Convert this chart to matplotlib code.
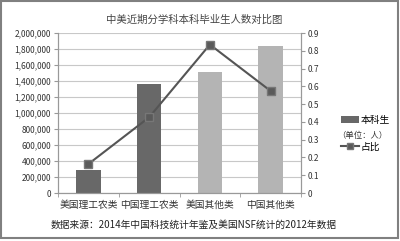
import matplotlib
matplotlib.use('Agg')
import matplotlib.pyplot as plt
from matplotlib.patches import Patch, Rectangle
from matplotlib.lines import Line2D

plt.rcParams['font.family'] = ['Noto Sans CJK SC', 'DejaVu Sans']

# 数据
categories = ['美国理工农类', '中国理工农类', '美国其他类', '中国其他类']
graduates = [290000, 1362000, 1508000, 1838000]
ratio = [0.163, 0.426, 0.835, 0.574]
bar_colors = ['#686868', '#686868', '#b4b4b4', '#b4b4b4']
left_ticks = list(range(0, 2000001, 200000))
right_ticks = [i / 10 for i in range(10)]

fig = plt.figure(figsize=(4, 2.41), dpi=100)
ax = fig.add_axes([0.145, 0.199, 0.6075, 0.664])
ax2 = ax.twinx()

x = list(range(len(categories)))
ax.bar(x, graduates, width=0.4, color=bar_colors, zorder=2)
ax.set_xlim(-0.5, 3.5)
ax.set_ylim(0, 2000000)
ax.set_yticks(left_ticks)
ax.set_yticklabels([f'{v:,}' for v in left_ticks])
ax.yaxis.grid(True, color='#c8c8c8', linewidth=0.8, zorder=0)
ax.set_axisbelow(True)
ax.set_xticks(x)
ax.set_xticklabels(categories)
ax.set_xticks([-0.5, 0.5, 1.5, 2.5, 3.5], minor=True)
ax.tick_params(axis='x', which='major', length=0, labelsize=7, pad=5, colors='#333333')
ax.tick_params(axis='x', which='minor', length=3, color='#999999')
ax.tick_params(axis='y', length=3, color='#999999', labelsize=6, colors='#333333', pad=2)

ax2.plot(x, ratio, color='#555555', linewidth=1.5, marker='s', markersize=6,
         markerfacecolor='#5a5a5a', markeredgecolor='#777777', zorder=3)
ax2.set_ylim(0, 0.9)
ax2.set_yticks(right_ticks)
ax2.set_yticklabels(['0'] + [f'{v:.1f}' for v in right_ticks[1:]])
ax2.tick_params(axis='y', length=3, color='#999999', labelsize=6, colors='#333333', pad=2)

for a in (ax, ax2):
    a.spines['top'].set_visible(False)
    for s in ('left', 'right', 'bottom'):
        a.spines[s].set_color('#999999')
        a.spines[s].set_linewidth(0.8)

fig.text(0.485, 0.918, '中美近期分学科本科毕业生人数对比图', ha='center', va='center',
         fontsize=7.5, color='#444444')
fig.text(0.485, 0.068, '数据来源：2014年中国科技统计年鉴及美国NSF统计的2012年数据',
         ha='center', va='center', fontsize=7, color='#222222')

handles = [Patch(facecolor='#686868'),
           Line2D([], [], color='#555555', linewidth=1.5, marker='s', markersize=5,
                  markerfacecolor='#5a5a5a', markeredgecolor='#777777')]
fig.legend(handles, ['本科生', '占比'], loc='center left', bbox_to_anchor=(0.853, 0.448),
           frameon=False, fontsize=7, handlelength=1.8, handletextpad=0.2,
           labelspacing=1.75, borderpad=0, borderaxespad=0)
fig.text(0.842, 0.437, '（单位：人）', ha='left', va='center', fontsize=6, color='#333333')

# 外框
fig.patches.append(Rectangle((0.002, 0.012), 0.994, 0.985, transform=fig.transFigure,
                             fill=False, edgecolor='#808080', linewidth=1.5))

fig.savefig('out.png', dpi=100)
